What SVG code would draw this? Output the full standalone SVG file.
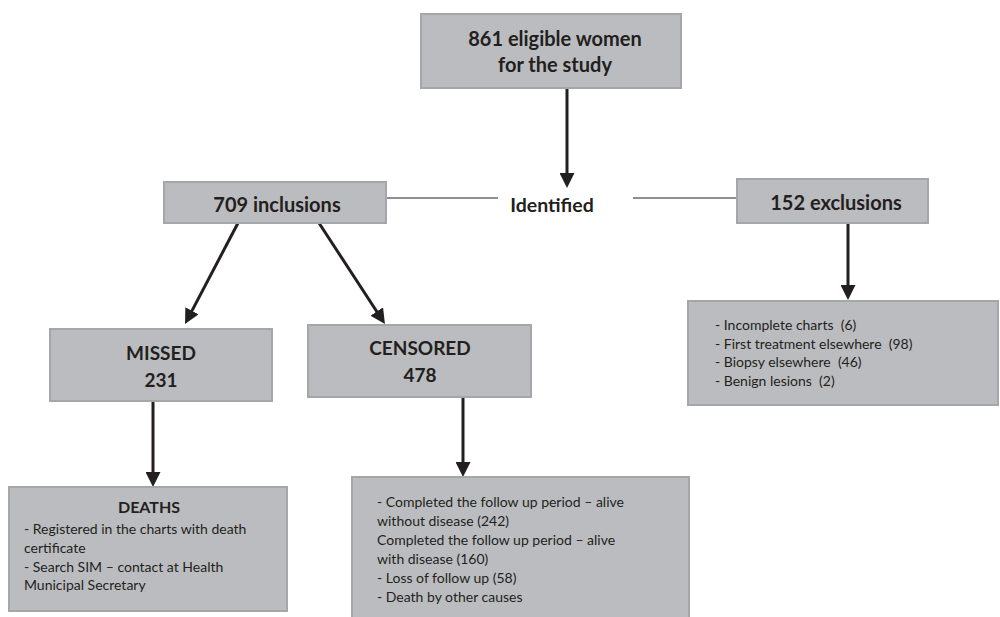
<svg xmlns="http://www.w3.org/2000/svg" width="1000" height="617" viewBox="0 0 1000 617">
<style>
.box{fill:#bbbcbf;stroke:#a4a6a9;stroke-width:2}
.t{font-family:Lato,"Liberation Sans",sans-serif;fill:#231f20}
.b{font-weight:bold;font-size:20px;text-anchor:middle}
.s{font-size:14px}
.c{stroke:#231f20;stroke-width:3;fill:none}
.h{stroke:#231f20;stroke-width:1.2;fill:none}
</style>
<defs>
<marker id="ah" markerWidth="15" markerHeight="15" refX="3" refY="7.5" orient="auto" markerUnits="userSpaceOnUse" viewBox="0 0 15 15">
<path d="M0,0 L15,7.5 L0,15 z" fill="#231f20"/>
</marker>
</defs>
<rect width="1000" height="617" fill="#ffffff"/>
<g id="connectors">
<line class="c" x1="567" y1="88" x2="567" y2="176" marker-end="url(#ah)"/>
<line class="h" x1="386" y1="198" x2="498" y2="198"/>
<line class="h" x1="633" y1="198" x2="737" y2="198"/>
<line class="c" x1="848" y1="223" x2="848" y2="288" marker-end="url(#ah)"/>
<line class="c" x1="238" y1="223" x2="190.6" y2="313.4" marker-end="url(#ah)"/>
<line class="c" x1="319" y1="223" x2="378.4" y2="314" marker-end="url(#ah)"/>
<line class="c" x1="153" y1="401" x2="153" y2="475" marker-end="url(#ah)"/>
<line class="c" x1="463" y1="397" x2="463" y2="465" marker-end="url(#ah)"/>
</g>
<g id="eligible">
<rect class="box" x="421" y="14" width="260" height="74"/>
<text class="t b" x="555" y="46">861 eligible women</text>
<text class="t b" x="555" y="72">for the study</text>
</g>
<g id="identified">
<text class="t b" x="552" y="212" style="font-size:19.5px">Identified</text>
</g>
<g id="inclusions">
<rect class="box" x="164" y="182" width="222" height="41"/>
<text class="t b" x="277" y="212">709 inclusions</text>
</g>
<g id="exclusions">
<rect class="box" x="737" y="179" width="191" height="44"/>
<text class="t b" x="836" y="210">152 exclusions</text>
</g>
<g id="exclusion-reasons">
<rect class="box" x="688" y="301" width="310" height="104"/>
<text class="t s" x="715" y="330">- Incomplete charts &#160;(6)</text>
<text class="t s" x="715" y="349">- First treatment elsewhere &#160;(98)</text>
<text class="t s" x="715" y="367">- Biopsy elsewhere &#160;(46)</text>
<text class="t s" x="715" y="386">- Benign lesions &#160;(2)</text>
</g>
<g id="missed">
<rect class="box" x="50" y="329" width="222" height="72"/>
<text class="t b" x="161" y="360" style="font-size:19px">MISSED</text>
<text class="t b" x="161" y="387" style="font-size:19px">231</text>
</g>
<g id="censored">
<rect class="box" x="308" y="325" width="223" height="72"/>
<text class="t b" x="420" y="355" style="font-size:19px">CENSORED</text>
<text class="t b" x="420" y="382" style="font-size:19px">478</text>
</g>
<g id="deaths">
<rect class="box" x="9" y="487" width="278" height="124"/>
<text class="t b" x="149" y="513" style="font-size:16px">DEATHS</text>
<text class="t s" x="24" y="534">- Registered in the charts with death</text>
<text class="t s" x="24" y="553">certificate</text>
<text class="t s" x="24" y="572">- Search SIM – contact at Health</text>
<text class="t s" x="24" y="590">Municipal Secretary</text>
</g>
<g id="censored-details">
<rect class="box" x="352" y="477" width="337" height="145"/>
<text class="t s" x="377" y="507">- Completed the follow up period – alive</text>
<text class="t s" x="377" y="526">without disease (242)</text>
<text class="t s" x="377" y="545">Completed the follow up period – alive</text>
<text class="t s" x="377" y="564">with disease (160)</text>
<text class="t s" x="377" y="583">- Loss of follow up (58)</text>
<text class="t s" x="377" y="602">- Death by other causes</text>
</g>
</svg>
